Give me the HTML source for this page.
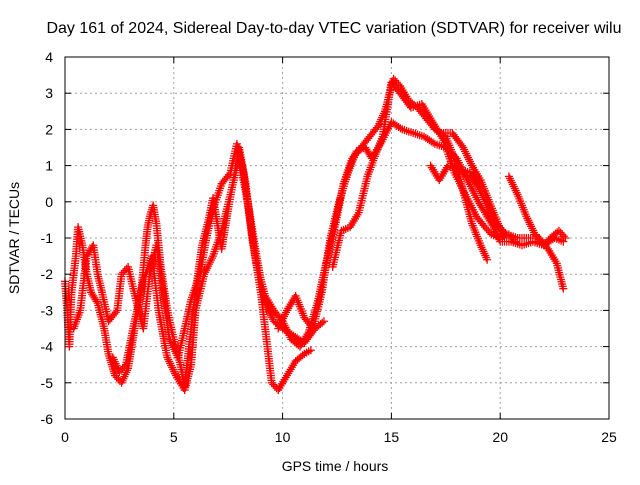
<!DOCTYPE html>
<html><head><meta charset="utf-8"><style>
body{margin:0;background:#fff;width:640px;height:480px;overflow:hidden}
svg text{font-family:"Liberation Sans",sans-serif;font-size:14px;fill:#000}
</style></head><body>
<svg id="chart" width="640" height="480" xmlns="http://www.w3.org/2000/svg">
<text x="334" y="33" text-anchor="middle" style="font-size:16px">Day 161 of 2024, Sidereal Day-to-day VTEC variation (SDTVAR) for receiver wilu</text>
<text x="335" y="471" text-anchor="middle">GPS time / hours</text>
<text transform="translate(19,238) rotate(-90)" text-anchor="middle">SDTVAR / TECUs</text>
<g id="grid"></g>
<g id="ticks"></g>
<g id="marks"></g>
<rect x="65" y="57" width="544" height="362" fill="none" stroke="#000" stroke-width="1"/>
</svg>
<script>
const xTicks=[0,5,10,15,20,25];
const yTicks=[4,3,2,1,0,-1,-2,-3,-4,-5,-6];
const arc1T=[0,0.1,0.2,0.3,0.5,0.6,0.8,1,1.2,1.5,1.8,2,2.3,2.6,2.9,3.2,3.5,3.7,3.8,3.9,4.05,4.2,4.4,4.7,5,5.3,5.5,5.7,6,6.3,6.6,6.8,7,7.2,7.5,7.8,8,8.3,8.6,9,9.3,9.5,9.8,10.2,10.6,11,11.3];
const arc1V=[-2.2,-3,-4,-2.5,-1.5,-0.7,-1.2,-2,-2.5,-2.8,-3.5,-4.2,-4.8,-5,-4.6,-3.5,-2.5,-1.2,-0.7,-0.4,-0.1,-0.6,-1.8,-3,-3.8,-4.5,-5.1,-4,-2.5,-1.2,-0.5,0.1,-0.6,-1.3,-0.2,0.8,1.5,0.5,-1,-2.5,-4,-5,-5.2,-4.8,-4.4,-4.2,-4.1];
const arc2T=[0.4,0.7,1,1.3,1.5,1.7,2,2.4,2.6,2.9,3.3,3.6,3.9,4.2,4.5,4.8,5.2,5.5,5.8,6.2,6.5,6.8,7.2,7.6,7.9,8.2,8.5,8.8,9.2,9.6,10,10.4,10.8,11.2,11.6,12,12.4,12.8,13.2,13.6,14,14.4,14.7,15.1,15.4,15.8,16.2,16.6,17,17.5,17.9,18.3,18.7,19.1,19.4];
const arc2V=[-3.5,-3,-1.5,-1.2,-2,-2.5,-3.3,-3,-2,-1.8,-2.8,-3.5,-2,-1.2,-2.5,-3.8,-4.3,-3.5,-2.7,-2,-1,-0.2,0.5,0.8,1.6,0.8,-0.5,-1.7,-2.6,-3,-3.3,-3.8,-4,-3.6,-2.8,-1.7,-0.7,0.5,1.2,1.5,1.8,2.1,2.5,3.4,3.2,2.8,2.6,2.3,2.0,1.8,1.2,0.3,-0.6,-1.2,-1.6];
const arc3T=[2.2,2.5,2.8,3.2,3.6,4,4.3,4.7,5.1,5.5,5.8,6,6.4,6.8,7.2,7.6,8,8.4,8.8,9.2,9.6,10,10.5,11,11.5,11.9];
const arc3V=[-4.3,-4.7,-4.5,-3.3,-2.2,-1.5,-3,-4.3,-4.8,-5.2,-4.5,-3,-2,-1.5,-0.8,0.2,1.2,0,-1.5,-2.8,-3.3,-3.5,-3.7,-3.9,-3.5,-3.3];
const arc4T=[9.8,10.2,10.6,11,11.4,11.8,12.2,12.6,13,13.4,13.8,14.1,14.5,15,15.5,16,16.5,17,17.5,18,18.5,19,19.3,19.7,20,20.5,21,21.5,22,22.5,22.9];
const arc4V=[-3.5,-3,-2.6,-3.2,-3.5,-2.5,-1,0,0.8,1.4,1.5,1.2,1.6,2.2,2.0,1.9,1.8,1.6,1.5,1.2,0.6,0,-0.3,-0.7,-1.1,-1.1,-1.2,-1.1,-1.2,-1.0,-1.1];
const arc5T=[12.3,12.7,13.1,13.5,13.9,14.2,14.6,15,15.4,15.9,16.4,16.9,17.4,17.9,18.4,18.9,19.3,19.6,20,20.4,20.7];
const arc5V=[-1.8,-0.8,-0.7,-0.3,0.7,1.2,1.8,3.3,3.0,2.6,2.7,2.2,1.7,0.8,0.2,-0.4,-0.7,-0.9,-1.0,-0.9,-1.1];
const arc6T=[16.8,17.2,17.6,18.2,18.6,19,19.4,19.8,20.3,20.8,21.3,21.8,22.2,22.6,22.9];
const arc6V=[1.0,0.6,1.0,0.9,0.8,0.4,-0.1,-0.6,-0.9,-1.0,-1.0,-1.0,-1.3,-1.7,-2.4];
const arc7T=[20.4,20.8,21.2,21.6,22,22.3,22.7,23];
const arc7V=[0.7,0.2,-0.4,-0.9,-1.2,-1.0,-0.8,-1.0];
const arc8T=[17.3,17.8,18.3,18.7,19.1,19.5,19.9,20.2];
const arc8V=[1.9,1.9,1.5,1.0,0.6,0.0,-0.6,-1.0];
const arcsT=[arc1T,arc2T,arc3T,arc4T,arc5T,arc6T,arc7T,arc8T];
const arcsV=[arc1V,arc2V,arc3V,arc4V,arc5V,arc6V,arc7V,arc8V];

const NS="http://www.w3.org/2000/svg";
const X0=65,X1=609,Y0=419,Y1=57;
function xs(t){return X0+(t-0)/(25-0)*(X1-X0);}
function ys(v){return Y0-(v-(-6))/(4-(-6))*(Y0-Y1);}
function mk(tag,at,parent){const e=document.createElementNS(NS,tag);for(const k in at)e.setAttribute(k,at[k]);parent.appendChild(e);return e;}
const grid=document.getElementById('grid'),ticks=document.getElementById('ticks'),marks=document.getElementById('marks');
xTicks.forEach(t=>{
  const x=xs(t);
  if(t>0&&t<25){const g=mk('line',{x1:x,x2:x,y1:Y0,y2:Y1,stroke:'#a0a0a0','stroke-dasharray':'2,3'},grid);
  
  }
  mk('line',{x1:x,x2:x,y1:Y0,y2:Y0-6,stroke:'#000'},ticks);
  mk('line',{x1:x,x2:x,y1:Y1,y2:Y1+6,stroke:'#000'},ticks);
  const l=mk('text',{x:x,y:442,'text-anchor':'middle'},ticks);l.textContent=t;
  
  
});
yTicks.forEach(v=>{
  const y=ys(v);
  if(v>-6&&v<4){const g=mk('line',{x1:X0,x2:X1,y1:y,y2:y,stroke:'#a0a0a0','stroke-dasharray':'2,3'},grid);
  
  }
  mk('line',{x1:X0,x2:X0+6,y1:y,y2:y,stroke:'#000'},ticks);
  mk('line',{x1:X1,x2:X1-6,y1:y,y2:y,stroke:'#000'},ticks);
  const l=mk('text',{x:53,y:y+5,'text-anchor':'end'},ticks);l.textContent=v;
  
  
});
let d='';
const h=4;
arcsT.forEach((T,a)=>{
  const V=arcsV[a];
  for(let i=0;i<T.length-1;i++){
    const xa=xs(T[i]),ya=ys(V[i]),xb=xs(T[i+1]),yb=ys(V[i+1]);
    const n=Math.max(1,Math.ceil(Math.hypot(xb-xa,yb-ya)/2.5));
    for(let k=0;k<n;k++){const x=xa+(xb-xa)*k/n,y=ya+(yb-ya)*k/n;d+=`M${x-h},${y}h${2*h}M${x},${y-h}v${2*h}`;}
  }
  const L=T.length-1;const x=xs(T[L]),y=ys(V[L]);d+=`M${x-h},${y}h${2*h}M${x},${y-h}v${2*h}`;
});
const p=mk('path',{d:d,stroke:'#ff0000','stroke-width':1.3,fill:'none'},marks);


</script>
</body></html>
